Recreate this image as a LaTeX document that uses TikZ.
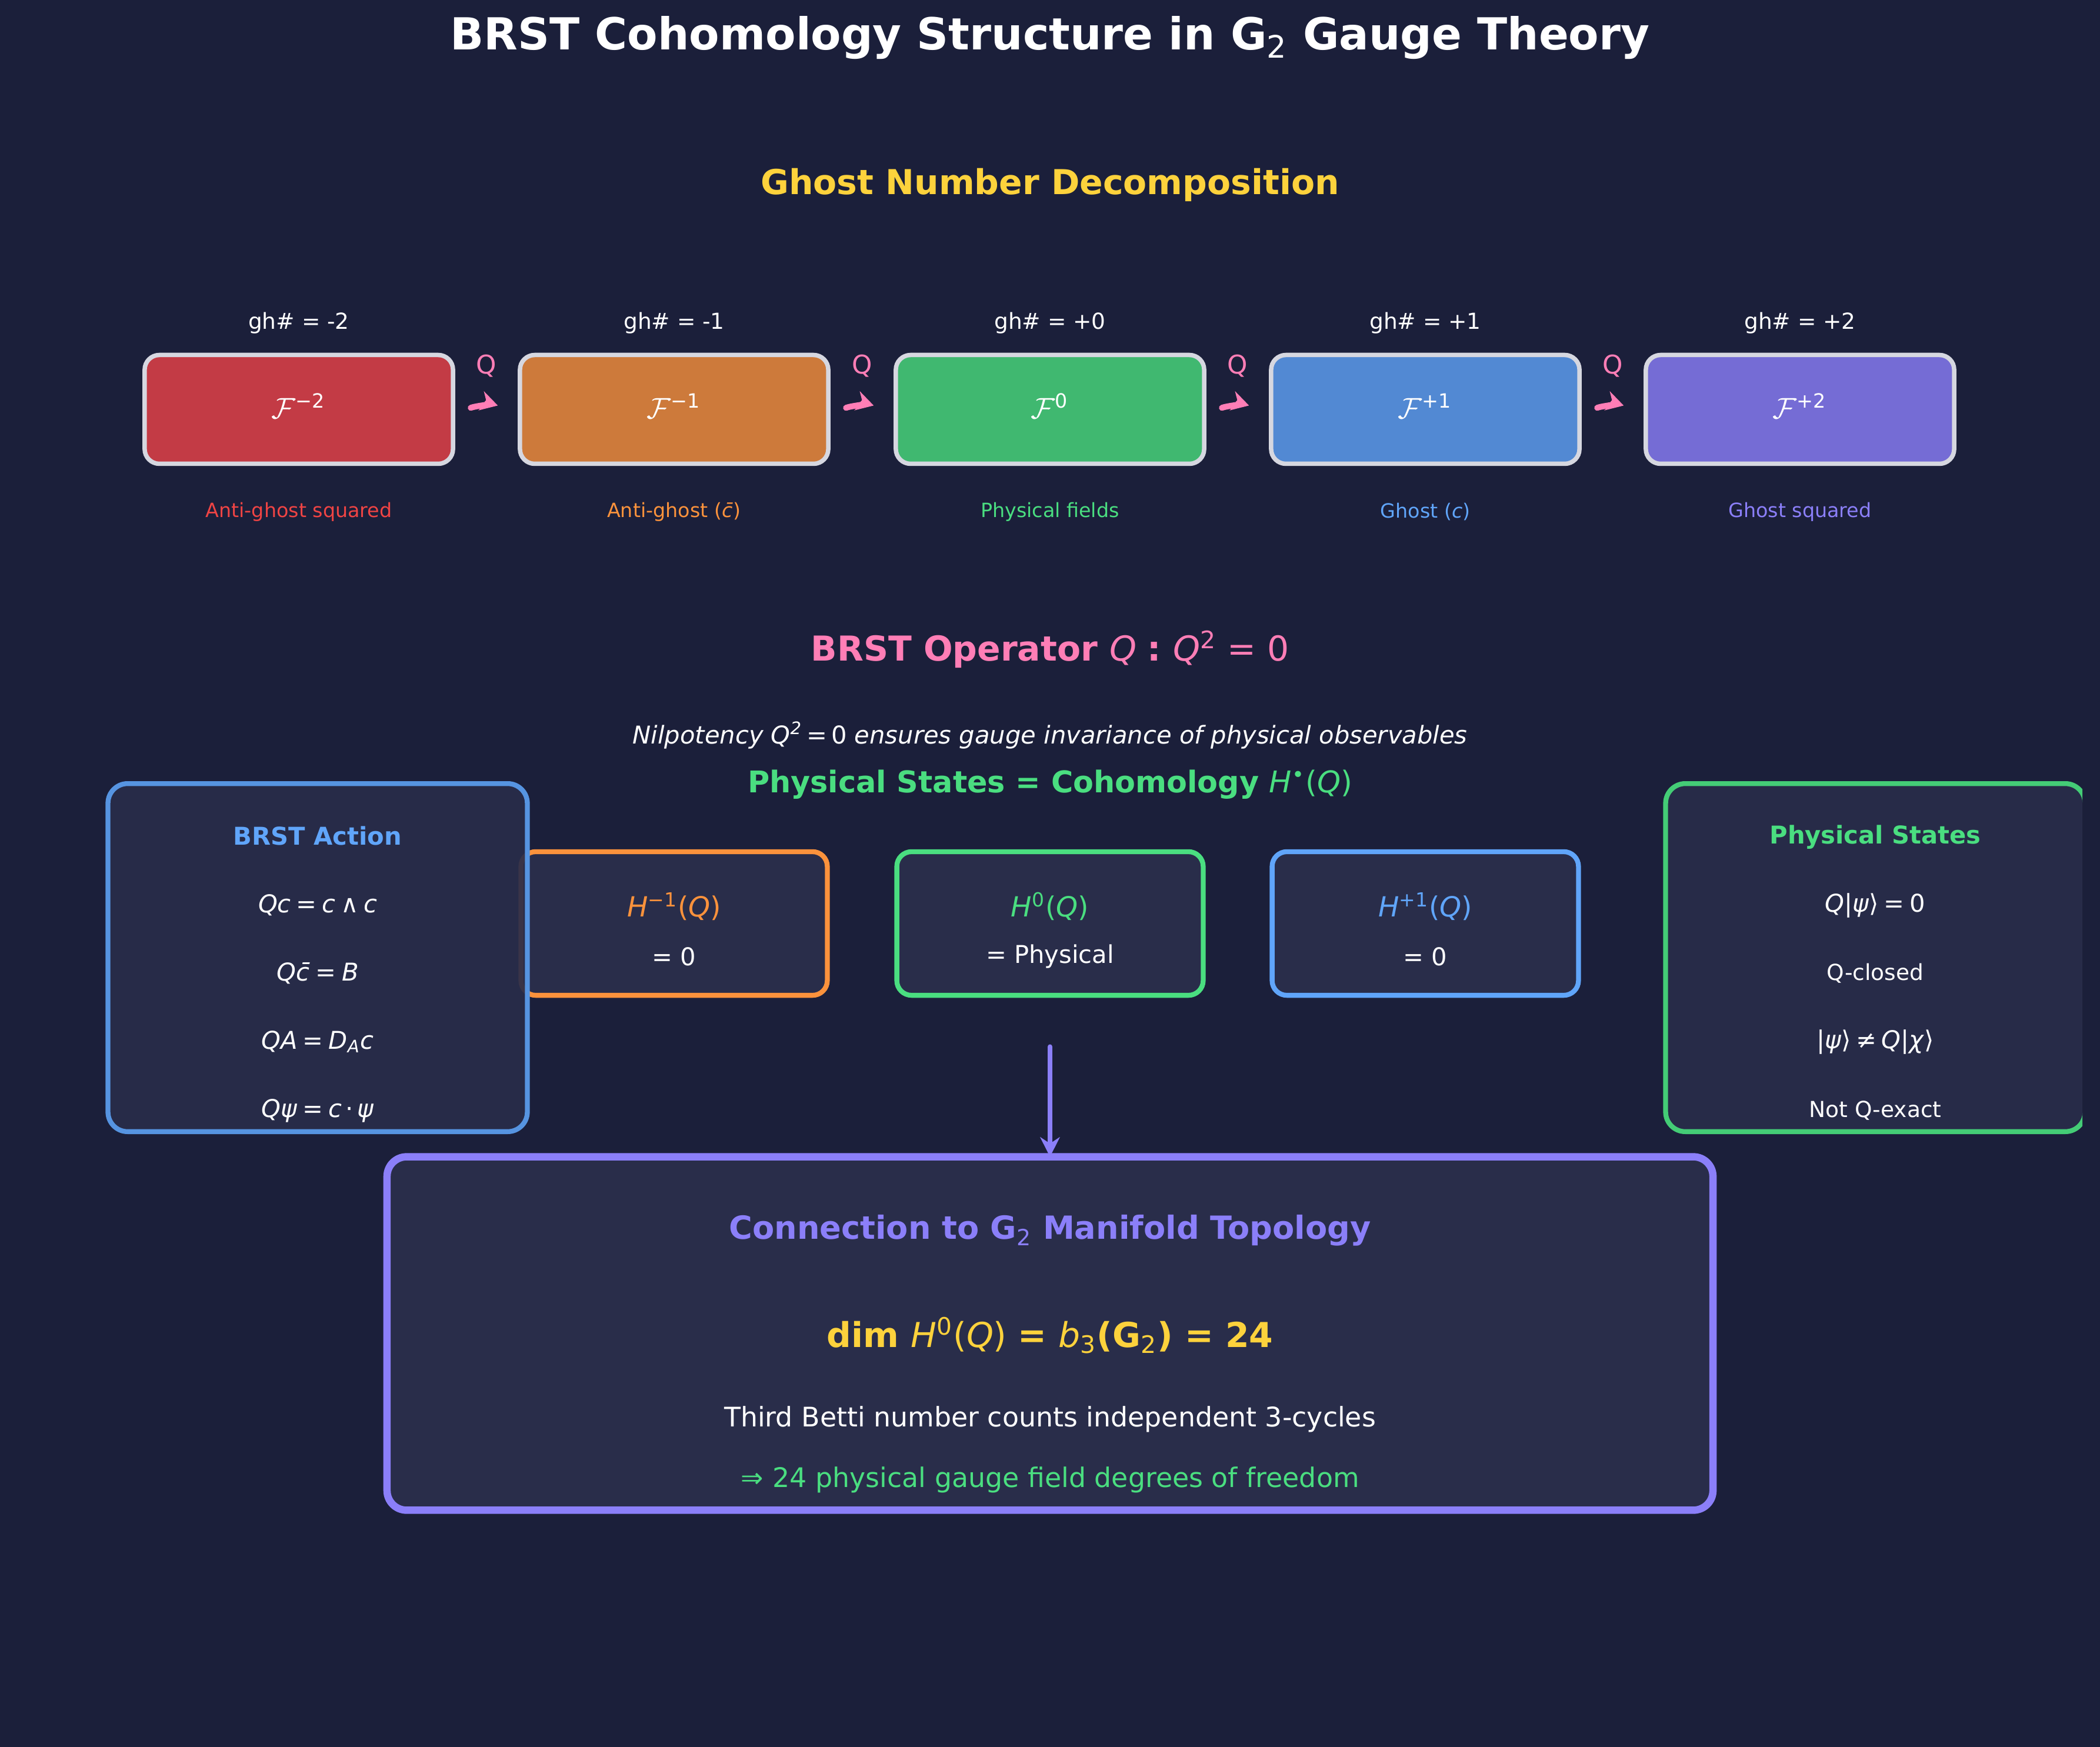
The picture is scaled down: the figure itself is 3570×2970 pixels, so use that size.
\documentclass[tikz,border=0pt]{standalone}
\usepackage{fontspec}
\setmainfont{DejaVu Sans}
\usetikzlibrary{arrows.meta}
\definecolor{bgc}{HTML}{1B1F3A}
\definecolor{panel}{HTML}{292D4A}
\definecolor{gold}{HTML}{FDD23C}
\definecolor{pinkc}{HTML}{FF7EB6}
\definecolor{greenc}{HTML}{4ADE80}
\definecolor{bluec}{HTML}{60A5FA}
\definecolor{orangec}{HTML}{FB923C}
\definecolor{purplec}{HTML}{8B7FF9}
\definecolor{redc}{HTML}{EF4444}
\definecolor{fred}{HTML}{C33B45}
\definecolor{forange}{HTML}{CD7A3B}
\definecolor{fgreen}{HTML}{40B870}
\definecolor{fblue}{HTML}{5289D3}
\definecolor{fpurple}{HTML}{756CD5}
\definecolor{boxline}{HTML}{D6D7E0}
\newcommand\fs[1]{\fontsize{#1}{#1}\selectfont}
\newcommand\mi[1]{\textit{#1}}
\newcommand\eq{\hspace{0.22em}=\hspace{0.22em}}
\begin{document}
\begin{tikzpicture}[x=0.24pt,y=-0.24pt,
  every node/.style={text=white, inner sep=0pt, outer sep=0pt},
  fieldbox/.style={rounded corners=6pt, draw=boxline, line width=1.8pt, minimum width=125.8pt, minimum height=44.4pt},
  cohobox/.style={rounded corners=6pt, fill=panel, line width=2pt, minimum width=125pt, minimum height=58.6pt},
  sidebox/.style={rounded corners=8pt, fill=panel, fill opacity=0.92, line width=2pt, minimum width=171.1pt, minimum height=142pt},
  bigbox/.style={rounded corners=8pt, fill=panel, draw=purplec, line width=3pt, minimum width=541pt, minimum height=144.2pt},
  qarrow/.style={draw=pinkc, line width=2.4pt, line cap=round, -{Stealth[length=7pt,width=8pt]}, shorten <=7.7pt, shorten >=9.4pt},
  darrow/.style={draw=purplec, line width=2pt, line cap=round, -{Stealth[length=8pt,width=8pt]}},
  ghlabel/.style={font=\fs{9}},
  sublabel/.style={font=\fs{8}},
  qlabel/.style={font=\fs{10.5}, text=pinkc},
  eqtext/.style={font=\fs{10}}
]
\fill[bgc] (0,0) rectangle (3570,2970);
\useasboundingbox (0,0) rectangle (3570,2970);

% title
\node[font=\bfseries\fs{18}] (title) at (1785,64) {BRST Cohomology Structure in G\textsubscript{\mdseries 2} Gauge Theory};
\node[font=\bfseries\fs{14}, text=gold] (gnd) at (1785,314) {Ghost Number Decomposition};

% field boxes
\node[fieldbox, fill=fred] (f1) at (508,696) {};
\node[fieldbox, fill=forange] (f2) at (1146,696) {};
\node[fieldbox, fill=fgreen] (f3) at (1785,696) {};
\node[fieldbox, fill=fblue] (f4) at (2423,696) {};
\node[fieldbox, fill=fpurple] (f5) at (3060,696) {};

\node[font=\fs{12}] (t1) at (508,690) {$\mathcal{F}$\textsuperscript{−2}};
\node[font=\fs{12}] (t2) at (1146,690) {$\mathcal{F}$\textsuperscript{−1}};
\node[font=\fs{12}] (t3) at (1785,690) {$\mathcal{F}$\textsuperscript{0}};
\node[font=\fs{12}] (t4) at (2423,690) {$\mathcal{F}$\textsuperscript{+1}};
\node[font=\fs{12}] (t5) at (3060,690) {$\mathcal{F}$\textsuperscript{+2}};

\node[ghlabel] (g1) at (508,549) {gh\# = -2};
\node[ghlabel] (g2) at (1146,549) {gh\# = -1};
\node[ghlabel] (g3) at (1785,549) {gh\# = +0};
\node[ghlabel] (g4) at (2423,549) {gh\# = +1};
\node[ghlabel] (g5) at (3060,549) {gh\# = +2};

\node[sublabel, text=redc] (s1) at (508,870) {Anti-ghost squared};
\node[sublabel, text=orangec] (s2) at (1146,870) {Anti-ghost (\mi{c̄})};
\node[sublabel, text=greenc] (s3) at (1785,870) {Physical fields};
\node[sublabel, text=bluec] (s4) at (2423,870) {Ghost (\mi{c})};
\node[sublabel, text=purplec] (s5) at (3060,870) {Ghost squared};

\foreach \a/\b/\x in {f1/f2/827, f2/f3/1466, f3/f4/2104, f4/f5/2742}{
  \node[qlabel] (q\a) at (\x,622) {Q};
  \draw[qarrow] ([yshift=-2pt]\a.east) to[bend left=18] ([yshift=-1pt]\b.west);
}

% BRST operator
\node[font=\bfseries\fs{14}, text=pinkc] (op) at (1785,1104) {BRST Operator \mdseries\mi{Q} \bfseries: \mdseries\mi{Q}\textsuperscript{2} = 0};
\node[font=\itshape\fs{10}] (nil) at (1785,1250) {Nilpotency Q\textsuperscript{2}\,\upshape=\,0\itshape\ ensures gauge invariance of physical observables};
\node[font=\bfseries\fs{12.2}, text=greenc] (phys) at (1785,1334) {Physical States = Cohomology \mdseries\mi{H}\textsuperscript{•}(\mi{Q})};

% cohomology boxes
\node[cohobox, draw=orangec] (h1) at (1146,1570) {};
\node[cohobox, draw=greenc] (h0) at (1785,1570) {};
\node[cohobox, draw=bluec] (h2) at (2423,1570) {};
\node[font=\fs{11.3}, text=orangec] (h1a) at (1146,1541) {\mi{H}\textsuperscript{−1}(\mi{Q})};
\node[font=\fs{11.3}, text=greenc] (h0a) at (1785,1541) {\mi{H}\textsuperscript{0}(\mi{Q})};
\node[font=\fs{11.3}, text=bluec] (h2a) at (2423,1541) {\mi{H}\textsuperscript{+1}(\mi{Q})};
\node[eqtext] (h1b) at (1146,1626) {= 0};
\node[eqtext] (h0b) at (1785,1626) {= Physical};
\node[eqtext] (h2b) at (2423,1626) {= 0};

% left box
\node[sidebox, draw=bluec!90!black] (left) at (540,1628) {};
\node[font=\bfseries\fs{10}, text=bluec] (lt) at (540,1421) {BRST Action};
\node[eqtext] (l1) at (540,1539) {\mi{Qc}\eq\mi{c}\hspace{0.2em}∧\hspace{0.2em}\mi{c}};
\node[eqtext] (l2) at (540,1655) {\mi{Qc̄}\eq\mi{B}};
\node[eqtext] (l3) at (540,1771) {\mi{QA}\eq\mi{D}\textsubscript{\itshape A}\mi{c}};
\node[eqtext] (l4) at (540,1888) {\mi{Qψ}\eq\mi{c}\hspace{0.15em}·\hspace{0.15em}\mi{ψ}};

% right box (clipped)
\begin{scope}
\clip (0,0) rectangle (3540,2970);
\node[sidebox, draw=greenc!92!black] (right) at (3188,1628) {};
\end{scope}
\node[font=\bfseries\fs{10}, text=greenc] (rt) at (3188,1423) {Physical States};
\node[eqtext] (r1) at (3188,1539) {\mi{Q}|\mi{ψ}⟩\eq 0};
\node[font=\fs{9}] (r2) at (3188,1655) {Q-closed};
\node[eqtext] (r3) at (3188,1771) {|\mi{ψ}⟩\hspace{0.2em}≠\hspace{0.2em}\mi{Q}|\mi{χ}⟩};
\node[font=\fs{9}] (r4) at (3188,1888) {Not Q-exact};

% big box
\node[bigbox] (conn) at (1785,2267) {};
\node[font=\bfseries\fs{13}, text=purplec] (ct) at (1785,2092) {Connection to G\textsubscript{\mdseries 2} Manifold Topology};
\node[font=\bfseries\fs{14}, text=gold] (dim) at (1785,2270) {dim \mdseries\mi{H}\textsuperscript{0}(\mi{Q}) \bfseries= \mdseries\mi{b}\textsubscript{3}\bfseries(G\textsubscript{\mdseries 2}) = 24};
\node[font=\fs{11}] (betti) at (1785,2413) {Third Betti number counts independent 3-cycles};
\node[font=\fs{11}, text=greenc] (dof) at (1785,2516) {⇒\hspace{0.35em}24 physical gauge field degrees of freedom};

\draw[darrow] ([yshift=-21pt]h0.south) -- (conn.north);
\end{tikzpicture}
\end{document}
